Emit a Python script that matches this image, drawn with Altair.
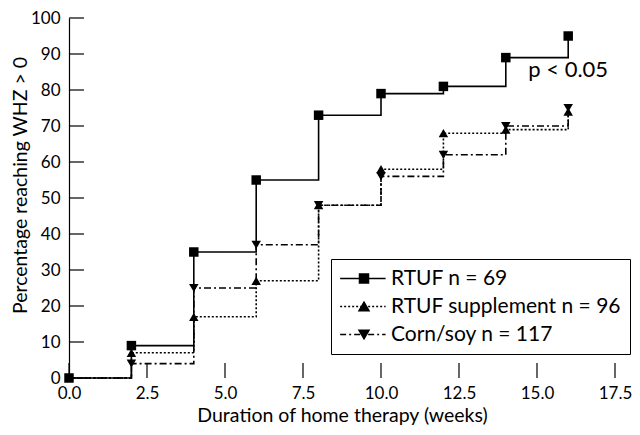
import altair as alt
import pandas as pd

# ---- data ----
weeks = [0, 2, 4, 6, 8, 10, 12, 14, 16]
rtuf = [0, 9, 35, 55, 73, 79, 81, 89, 95]
rtuf_supp = [0, 7, 17, 27, 48, 58, 68, 69, 74]
corn_soy = [0, 4, 25, 37, 48, 56, 62, 70, 75]
series_names = ["RTUF n = 69", "RTUF supplement n = 96", "Corn/soy n = 117"]
x_tick_values = [0.0, 2.5, 5.0, 7.5, 10.0, 12.5, 15.0, 17.5]
y_tick_values = [0, 10, 20, 30, 40, 50, 60, 70, 80, 90, 100]
note_text = ["p < 0.05"]
note_week = [16.0]
note_pct = [85.5]

# ---- tables ----
rows = []
for name, vals in zip(series_names, [rtuf, rtuf_supp, corn_soy]):
    for w, v in zip(weeks, vals):
        rows.append({"series": name, "week": w, "pct": v})
df = pd.DataFrame(rows)
df_pts = df[(df["week"] > 0) | (df["series"] == series_names[0])]
xt = pd.DataFrame({"week": x_tick_values})
yt = pd.DataFrame({"pct": y_tick_values})
note = pd.DataFrame({"week": note_week, "pct": note_pct, "label": note_text})

FONT = "Lato"
W, H = 546, 360

x_enc = alt.X("week:Q", scale=alt.Scale(domain=[0, 17.5], nice=False, zero=False),
              axis=alt.Axis(values=x_tick_values, format=".1f", ticks=False, domain=False,
                            grid=False, labelPadding=7, labelFlush=False,
                            title="Duration of home therapy (weeks)",
                            titlePadding=5.5, titleFontSize=19.5))
y_enc = alt.Y("pct:Q", scale=alt.Scale(domain=[0, 100], nice=False),
              axis=alt.Axis(values=y_tick_values, format="d", ticks=False, domain=True,
                            domainColor="black", domainWidth=1.2, grid=False, labelPadding=9,
                            labelFlush=False,
                            title="Percentage reaching WHZ > 0", titleX=-49, titleY=167,
                            titleBaseline="middle", titleFontSize=19.5))

dash_chart = [[1, 0], [2, 2], [7, 3, 2, 3]]
dash_legend = [[1000, 0], [2, 2], [6, 3, 2, 3]]

UNIT = 4.5  # sqrt(81)/2


def dash_path(pattern, start_u, end_u):
    segs = []
    pos = start_u
    i = 0
    while pos < end_u - 1e-6:
        on = pattern[i % len(pattern)] / UNIT
        off = pattern[(i + 1) % len(pattern)] / UNIT
        e = min(pos + on, end_u)
        segs.append(f"M{pos:.3f},0H{e:.3f}")
        pos = e + off
        i += 2
    return "".join(segs)


L0, L1, MC = -2.3, 7.8, 3.0
markers = [
    f"M{MC-1:.3f},-1H{MC+1:.3f}V1H{MC-1:.3f}Z",
    f"M{MC:.3f},-0.96L{MC+1.11:.3f},0.96L{MC-1.11:.3f},0.96Z",
    f"M{MC:.3f},0.96L{MC+1.11:.3f},-0.96L{MC-1.11:.3f},-0.96Z",
]
legend_paths = [dash_path(p, L0, L1) + m for p, m in zip(dash_legend, markers)]

lines = alt.Chart(df).mark_line(interpolate="step-after", color="black", strokeWidth=1.6).encode(
    x=x_enc, y=y_enc,
    strokeDash=alt.StrokeDash("series:N", scale=alt.Scale(domain=series_names, range=dash_chart),
                              legend=None),
    detail="series:N",
)

points = alt.Chart(df_pts).mark_point(filled=True, color="black", opacity=1, size=90).encode(
    x=x_enc, y=y_enc,
    shape=alt.Shape("series:N", scale=alt.Scale(domain=series_names,
                                                range=["square", "triangle-up", "triangle-down"]),
                    legend=None),
)

legend_layer = alt.Chart(df).transform_filter("datum.week < 0").mark_point(
    filled=True, fill="black", stroke="black", strokeWidth=1.5, opacity=1
).encode(
    x=x_enc, y=y_enc,
    shape=alt.Shape("series:N", scale=alt.Scale(domain=series_names, range=legend_paths),
                    legend=alt.Legend(title=None, orient="none", legendX=262, legendY=241,
                                      padding=9, strokeColor="black", symbolSize=81,
                                      symbolStrokeWidth=1.5, labelOffset=30,
                                      labelFont=FONT, labelFontSize=21, labelColor="black",
                                      labelLimit=0, rowPadding=6)),
)

ytick_rules = alt.Chart(yt).mark_rule(color="black", strokeWidth=1.2).encode(
    y=y_enc, x=alt.value(0), x2=alt.value(15))
xtick_rules = alt.Chart(xt).mark_rule(color="black", strokeWidth=1.2).encode(
    x=x_enc, y=alt.value(H), y2=alt.value(H - 15))

note_layer = alt.Chart(note).mark_text(font=FONT, fontSize=22, color="black",
                                       align="center", baseline="middle").encode(
    x=x_enc, y=y_enc, text="label:N")

chart = alt.layer(ytick_rules, xtick_rules, lines, points, legend_layer, note_layer).resolve_scale(
    shape="independent"
).properties(
    width=W, height=H, autosize="none",
    padding={"left": 61, "top": 10, "right": 17, "bottom": 49},
).configure_view(stroke=None).configure_axis(
    labelFont=FONT, labelFontSize=17, labelColor="black",
    titleFont=FONT, titleFontWeight="normal", titleColor="black",
)

chart.save("out.html", embed_options={"renderer": "svg", "actions": False})
